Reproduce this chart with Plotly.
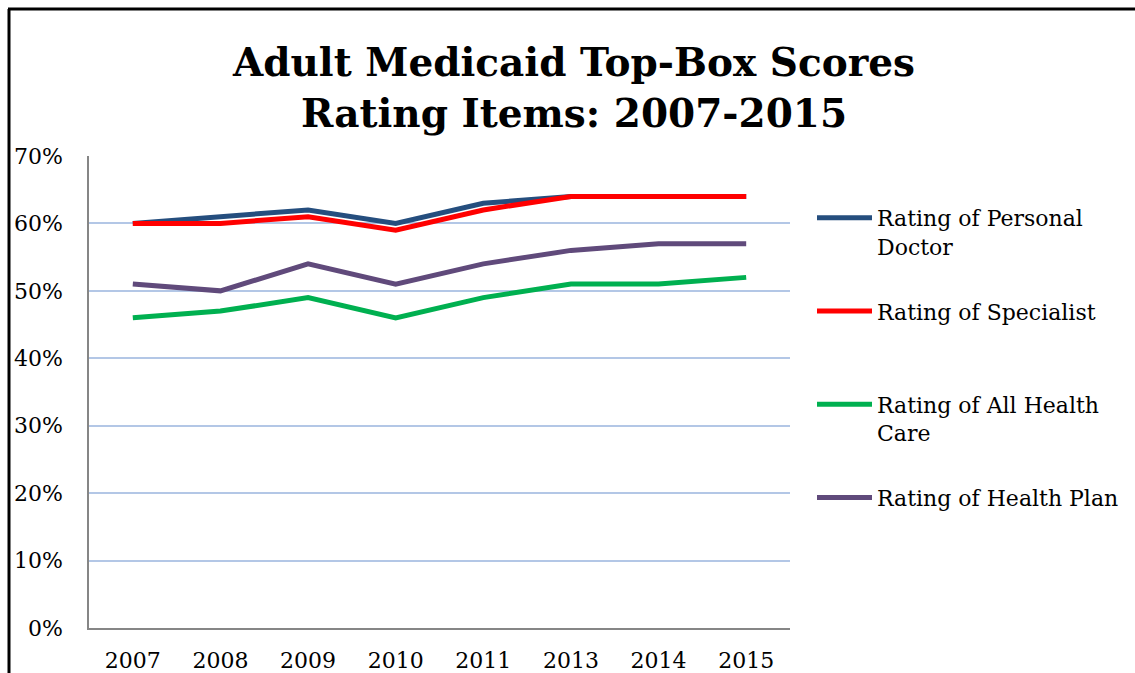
import plotly.graph_objects as go

years = ["2007", "2008", "2009", "2010", "2011", "2013", "2014", "2015"]
personal_doctor = [60, 61, 62, 60, 63, 64, 64, 64]
specialist = [60, 60, 61, 59, 62, 64, 64, 64]
all_health_care = [46, 47, 49, 46, 49, 51, 51, 52]
health_plan = [51, 50, 54, 51, 54, 56, 57, 57]

series = [
    ("Rating of Personal<br>Doctor", personal_doctor, "#254E7E"),
    ("Rating of Specialist<br>\u00a0", specialist, "#FF0000"),
    ("Rating of All Health<br>Care", all_health_care, "#00B050"),
    ("Rating of Health Plan<br>\u00a0", health_plan, "#604A7B"),
]

FONT = "DejaVu Serif"

fig = go.Figure()
for i, (name, vals, color) in enumerate(series):
    fig.add_trace(go.Scatter(
        x=years, y=vals, name=name, mode="lines",
        line=dict(color=color, width=5),
        legendgroup=f"g{i}",
    ))

W, H = 1135, 673
L, R, T, B = 89, 345, 156, 45
pw, ph = W - L - R, H - T - B

def px_x(x):
    return (x - L) / pw

def px_y(y):
    return (H - B - y) / ph

fig.update_layout(
    width=W, height=H,
    margin=dict(l=L, r=R, t=T, b=B, autoexpand=False),
    paper_bgcolor="white", plot_bgcolor="white",
    font=dict(family=FONT, size=22, color="black"),
    title=dict(
        text="<b>Adult Medicaid Top-Box Scores<br>Rating Items: 2007-2015</b>",
        x=574 / W, xanchor="center", y=1 - 76 / H, yanchor="middle",
        font=dict(family=FONT, size=39, color="black"),
    ),
    showlegend=True,
    legend=dict(
        x=px_x(812), xanchor="left", y=px_y(197), yanchor="top",
        valign="top", tracegroupgap=33, itemwidth=55,
        font=dict(family=FONT, size=22, color="black"),
        bgcolor="rgba(0,0,0,0)",
    ),
    xaxis=dict(
        type="category", range=[-0.5, 7.5], automargin=False,
        showgrid=False, showline=True, linecolor="#868686", linewidth=1.5,
        ticks="", ticklabelstandoff=12, zeroline=False,
        tickfont=dict(family=FONT, size=22, color="black"),
    ),
    yaxis=dict(
        range=[0, 70], dtick=10, tick0=0, ticksuffix="%", automargin=False,
        showgrid=True, gridcolor="#B3C7E6", gridwidth=1.5,
        showline=True, linecolor="#868686", linewidth=1.5,
        ticks="", ticklabelstandoff=20, zeroline=False,
        tickfont=dict(family=FONT, size=22, color="black"),
    ),
    shapes=[
        dict(type="line", xref="paper", yref="paper",
             x0=px_x(9), x1=px_x(9), y0=px_y(9), y1=px_y(700),
             line=dict(color="black", width=3)),
        dict(type="line", xref="paper", yref="paper",
             x0=px_x(8), x1=px_x(1140), y0=px_y(9), y1=px_y(9),
             line=dict(color="black", width=3)),
    ],
)

fig.write_html(
    "out.html",
    config={"displayModeBar": False},
    post_script="document.body.style.margin='0';document.body.style.overflow='hidden';",
)
